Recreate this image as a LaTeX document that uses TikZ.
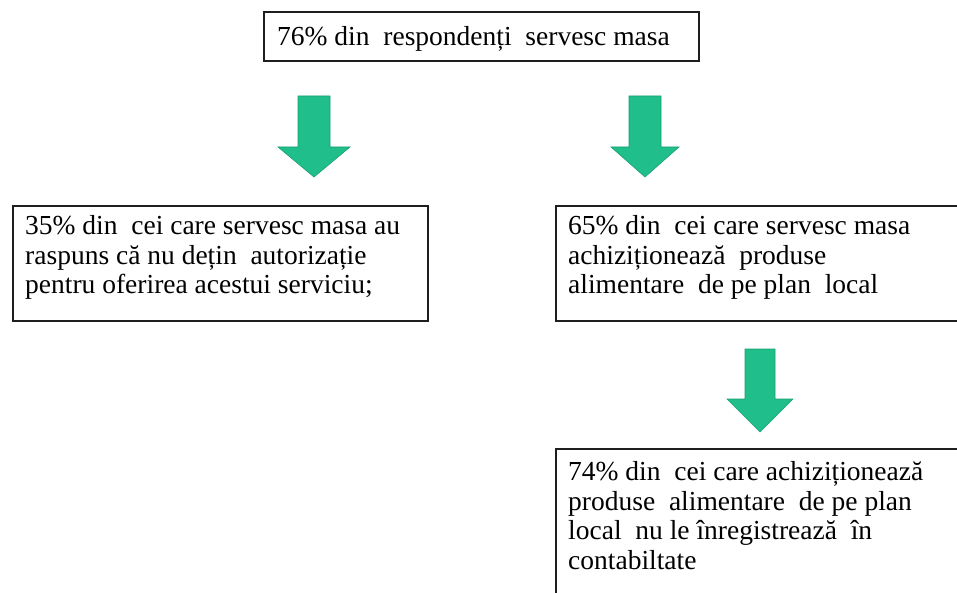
\documentclass[tikz,border=0pt]{standalone}
\usepackage{fontspec}
\setmainfont{Liberation Serif}
\definecolor{arrowgreen}{RGB}{32,190,138}
\definecolor{arrowedge}{RGB}{24,160,115}
\definecolor{frameline}{RGB}{30,30,30}
\newcommand{\ds}{\ \ }
\begin{document}
\begin{tikzpicture}[x=1pt,y=-1pt,
  frame/.style={draw=frameline, line width=1.8pt, inner sep=0pt, anchor=north west},
  txt/.style={align=left, inner sep=0pt, anchor=base west,
    font=\fontsize{27.5}{29.5}\selectfont, text=black},
  blockarrow/.style={fill=arrowgreen, draw=arrowedge, line width=0.6pt, line join=miter}]
\useasboundingbox (0,0) rectangle (957,593);
\fill[white] (0,0) rectangle (957,593);
\begin{scope}
\clip (0,0) rectangle (957,593);
% frames
\node[frame, minimum width=435pt, minimum height=49pt] (top) at (263,11) {};
\node[frame, minimum width=415pt, minimum height=115pt] (left) at (12,205) {};
\node[frame, minimum width=420pt, minimum height=115pt] (right) at (555,205) {};
\node[frame, minimum width=420pt, minimum height=170pt] (bottom) at (555,448) {};
% texts (anchor = baseline of last line)
\node[txt] (ttop) at (277,46) {76\% din\ds respondenți\ds servesc masa};
\node[txt] (tleft) at (25,294) {35\% din\ds cei care servesc masa au\\raspuns că nu dețin\ds autorizație\\pentru oferirea acestui serviciu;};
\node[txt] (tright) at (568,294) {65\% din\ds cei care servesc masa\\achiziționează\ds produse\\alimentare\ds de pe plan\ds local};
\node[txt] (tbottom) at (568,569) {74\% din\ds cei care achiziționează\\produse\ds alimentare\ds de pe plan\\local\ds nu le înregistrează\ds în\\contabiltate};
% block arrows
\coordinate (a1) at (314,96);
\coordinate (a2) at (645,96);
\coordinate (a3) at (760,349);
\draw[blockarrow] (a1) ++(-16,0) -- ++(32,0) -- ++(0,51) -- ++(20,0) -- ++(-36,30) -- ++(-36,-30) -- ++(20,0) -- cycle;
\draw[blockarrow] (a2) ++(-16,0) -- ++(32,0) -- ++(0,51) -- ++(18,0) -- ++(-34,30) -- ++(-34,-30) -- ++(18,0) -- cycle;
\draw[blockarrow] (a3) ++(-15,0) -- ++(30,0) -- ++(0,50) -- ++(18,0) -- ++(-33,33) -- ++(-33,-33) -- ++(18,0) -- cycle;
\end{scope}
\end{tikzpicture}
\end{document}
